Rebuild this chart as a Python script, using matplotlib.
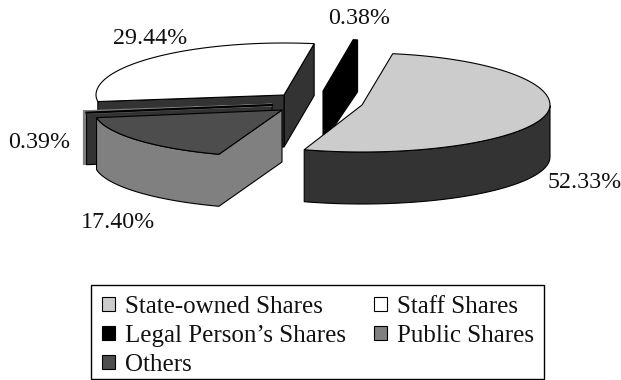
import numpy as np
import matplotlib
matplotlib.use('Agg')
import matplotlib.pyplot as plt
from matplotlib.patches import Patch, Polygon, Rectangle

plt.rcParams['font.family'] = ['Liberation Serif', 'DejaVu Serif']

# legend fills column by column, so this order reads row by row like the original
categories = ['State-owned Shares', "Legal Person\u2019s Shares", 'Others', 'Staff Shares', 'Public Shares']
legend_colors = ['#cccccc', '#000000', '#4d4d4d', '#ffffff', '#808080']
shares = {'Legal': 0.38, 'Staff': 29.44, 'Public': 0.39, 'Others': 17.40, 'State': 52.33}

# order of the slices going round from the back of the pie
ring_order = ['Legal', 'Staff', 'Public', 'Others', 'State']
START = 80.6
RX, RY_BACK, RY_FRONT, DEPTH = 188, 52, 47, 52

# exploded centre, top colour and side colour of every slice
centres = {'State': (362, 105), 'Legal': (323, 91), 'Staff': (284, 95), 'Public': (272, 105), 'Others': (282, 110)}
tops = {'State': '#cccccc', 'Legal': '#000000', 'Staff': '#ffffff', 'Public': '#808080', 'Others': '#4d4d4d'}
sides = {'State': '#333333', 'Legal': '#000000', 'Staff': '#333333', 'Public': '#333333', 'Others': '#808080'}
# perspective skew of the original, in degrees
skew = {'Legal': (-1.2, -1.2), 'Staff': (-1.2, 0), 'Others': (0, -1.7)}

total = sum(shares.values())
angles = {}
a = START
for name in ring_order:
    b = a + 360 * shares[name] / total
    d0, d1 = skew.get(name, (0, 0))
    angles[name] = (a + d0, b + d1)
    a = b


def rim(name, a0, a1, n=80):
    cx, cy = centres[name]
    t = np.radians(np.linspace(a0, a1, n))
    s = np.sin(t)
    ry = np.where(s > 0, RY_BACK, RY_FRONT)
    return np.column_stack([cx + RX * np.cos(t), cy - ry * s])


def down(pts):
    return pts + np.array([0, DEPTH])


def poly(ax, pts, color, lw=0.8, edge='black', z=1):
    ax.add_patch(Polygon(pts, closed=True, facecolor=color, edgecolor=edge, linewidth=lw, joinstyle='miter', zorder=z))


fig = plt.figure(figsize=(6.21, 3.8), dpi=100)
ax = fig.add_axes([0, 0, 1, 1])
ax.set_xlim(0, 621)
ax.set_ylim(380, 0)
ax.axis('off')

# Staff: two cut faces and the top
a0, a1 = angles['Staff']
arc = rim('Staff', a0, a1)
apex = np.array([centres['Staff']])
poly(ax, np.vstack([apex, arc[:1], down(arc[:1]), down(apex)]), sides['Staff'], z=1)
poly(ax, np.vstack([apex, arc[-1:], down(arc[-1:]), down(apex)]), sides['Staff'], z=1)
poly(ax, np.vstack([apex, arc]), tops['Staff'], z=2)

# Public: sliver with a wide grey outer edge
a0, a1 = angles['Public']
arc = rim('Public', a0, a1)
apex = np.array([centres['Public']])
ax.plot([arc[-1, 0] - 1.5] * 2, [arc[0, 1] - 2, arc[-1, 1] + DEPTH], color=tops['Public'], lw=3.0,
        solid_capstyle='butt', zorder=3)
poly(ax, np.vstack([apex, arc[-1:], down(arc[-1:]), down(apex)]), sides['Public'], z=4)
poly(ax, np.vstack([apex, arc]), tops['Public'], lw=2.0, edge=tops['Public'], z=5)
ax.plot(*np.vstack([apex, arc[-1:]]).T, color='black', lw=1.6, zorder=6)

# Others: the side runs on along the cut face without a break
a0, a1 = angles['Others']
arc = rim('Others', a0, a1)
apex = np.array([centres['Others']])
edge_line = np.vstack([arc, apex])
poly(ax, np.vstack([edge_line, down(edge_line[::-1])]), sides['Others'], z=7)
poly(ax, edge_line, tops['Others'], z=8)

# Legal: thin slice, black all over
a0, a1 = angles['Legal']
arc = rim('Legal', a0, a1, n=6)
apex = np.array([centres['Legal']])
poly(ax, np.vstack([apex, arc[-1:], arc[:1], down(arc[:1]), down(apex)]), sides['Legal'], z=9)

# State: outer side below, top above
a0, a1 = angles['State']
arc = rim('State', a0, a1)
apex = np.array([centres['State']])
front = arc[np.sin(np.radians(np.linspace(a0, a1, len(arc)))) <= 0]
poly(ax, np.vstack([front, down(front[::-1])]), sides['State'], z=10)
poly(ax, np.vstack([apex, arc]), tops['State'], z=11)

ax.text(150, 38, '29.44%', fontsize=17.3, ha='center', va='center', color='#111111')
ax.text(359, 18.5, '0.38%', fontsize=17.3, ha='center', va='center', color='#111111')
ax.text(585, 183, '52.33%', fontsize=17.3, ha='center', va='center', color='#111111')
ax.text(39, 143, '0.39%', fontsize=17.3, ha='center', va='center', color='#111111')
ax.text(118, 223, '17.40%', fontsize=17.3, ha='center', va='center', color='#111111')

# frame drawn by hand: the original box is tighter below the last row than above the first
ax.add_patch(Rectangle((91, 285), 453, 94, facecolor='white', edgecolor='black', linewidth=1.0, zorder=12))
handles = [Patch(facecolor=c, edgecolor='black', linewidth=0.8) for c in legend_colors]
leg = ax.legend(handles, categories, ncol=2, loc='upper left', bbox_to_anchor=(91, 285), bbox_transform=ax.transData,
                fontsize=18, frameon=False,
                handlelength=0.52, handleheight=0.52, handletextpad=0.4, labelspacing=0.28,
                columnspacing=1.12, borderpad=0.44, borderaxespad=0)
leg.set_zorder(13)
for txt in leg.get_texts():
    txt.set_color('#111111')

fig.savefig('out.png', dpi=100)
